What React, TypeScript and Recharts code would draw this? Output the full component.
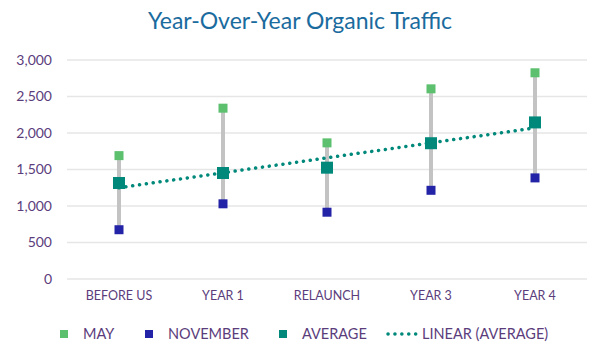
import React from 'react'
import { Bar, CartesianGrid, ComposedChart, Line, Scatter, XAxis, YAxis } from 'recharts'

const categories = ['BEFORE US', 'YEAR 1', 'RELAUNCH', 'YEAR 3', 'YEAR 4']
const mayValues = [1690, 2340, 1865, 2605, 2825]
const novemberValues = [675, 1030, 915, 1215, 1385]
const averageValues = [1315, 1452, 1525, 1860, 2145]
const trendValues = [1250, 1455, 1660, 1865, 2070]
const yTicks = [0, 500, 1000, 1500, 2000, 2500, 3000]

const MAY = '#5cc06e'
const NOV = '#2323a8'
const AVG = '#00897b'
const TEXT = '#5b3d7c'
const FONT = 'Lato, "Open Sans", sans-serif'

const data = categories.map((name, i) => ({
  name,
  may: mayValues[i],
  nov: novemberValues[i],
  avg: averageValues[i],
  trend: trendValues[i],
  range: [novemberValues[i], mayValues[i]],
}))

// square marker centred on the point
const square = (size: number, color: string) => (props: any) => {
  const { cx, cy } = props
  if (cx == null || cy == null) return null
  return <rect x={cx - size / 2} y={cy - size / 2} width={size} height={size} fill={color} />
}

function LegendItem({ color, label, x }: { color: string; label: string; x: number }) {
  return (
    <div style={{ position: 'absolute', left: x, top: 0, display: 'flex', alignItems: 'center' }}>
      <span style={{ width: 8, height: 8, background: color, display: 'inline-block', marginRight: 15 }} />
      <span>{label}</span>
    </div>
  )
}

export default function App() {
  return (
    <div style={{ position: 'absolute', left: 0, top: 0, width: 600, height: 357, background: '#fff', fontFamily: FONT }}>
      <div
        style={{
          position: 'absolute',
          top: 6,
          width: 600,
          textAlign: 'center',
          fontSize: 23,
          color: '#1a6b9e',
        }}
      >
        Year-Over-Year Organic Traffic
      </div>
      <ComposedChart width={600} height={357} data={data} margin={{ top: 60, right: 13, left: 0, bottom: 48 }}>
        <CartesianGrid vertical={false} stroke="#e6e6e6" strokeWidth={1.5} />
        <XAxis
          dataKey="name"
          axisLine={false}
          tickLine={false}
          tickMargin={6}
          tick={{ fill: TEXT, fontSize: 12.5, fontFamily: FONT }}
          interval={0}
          height={30}
        />
        <YAxis
          domain={[0, 3000]}
          ticks={yTicks}
          axisLine={false}
          tickLine={false}
          width={67}
          tickMargin={9}
          tickFormatter={(v: number) => v.toLocaleString('en-US')}
          tick={{ fill: TEXT, fontSize: 14, fontFamily: FONT }}
        />
        <Bar dataKey="range" barSize={4} fill="#c3c3c3" isAnimationActive={false} />
        <Line
          dataKey="trend"
          stroke={AVG}
          strokeWidth={3.5}
          strokeDasharray="0.1 6.8"
          strokeLinecap="round"
          dot={false}
          activeDot={false}
          isAnimationActive={false}
        />
        <Scatter dataKey="may" shape={square(9, MAY)} isAnimationActive={false} />
        <Scatter dataKey="nov" shape={square(9, NOV)} isAnimationActive={false} />
        <Scatter dataKey="avg" shape={square(12, AVG)} isAnimationActive={false} />
      </ComposedChart>
      <div style={{ position: 'absolute', top: 325, left: 0, width: 600, height: 18, fontSize: 14.5, color: TEXT, lineHeight: '18px' }}>
        <LegendItem color={MAY} label="MAY" x={60} />
        <LegendItem color={NOV} label="NOVEMBER" x={145} />
        <LegendItem color={AVG} label="AVERAGE" x={279} />
        <div style={{ position: 'absolute', left: 386, top: 0, display: 'flex', alignItems: 'center' }}>
          <svg width={36} height={18}>
            <line x1={2} y1={9} x2={36} y2={9} stroke={AVG} strokeWidth={3.5} strokeDasharray="0.1 6.8" strokeLinecap="round" />
          </svg>
          <span>LINEAR (AVERAGE)</span>
        </div>
      </div>
    </div>
  )
}
